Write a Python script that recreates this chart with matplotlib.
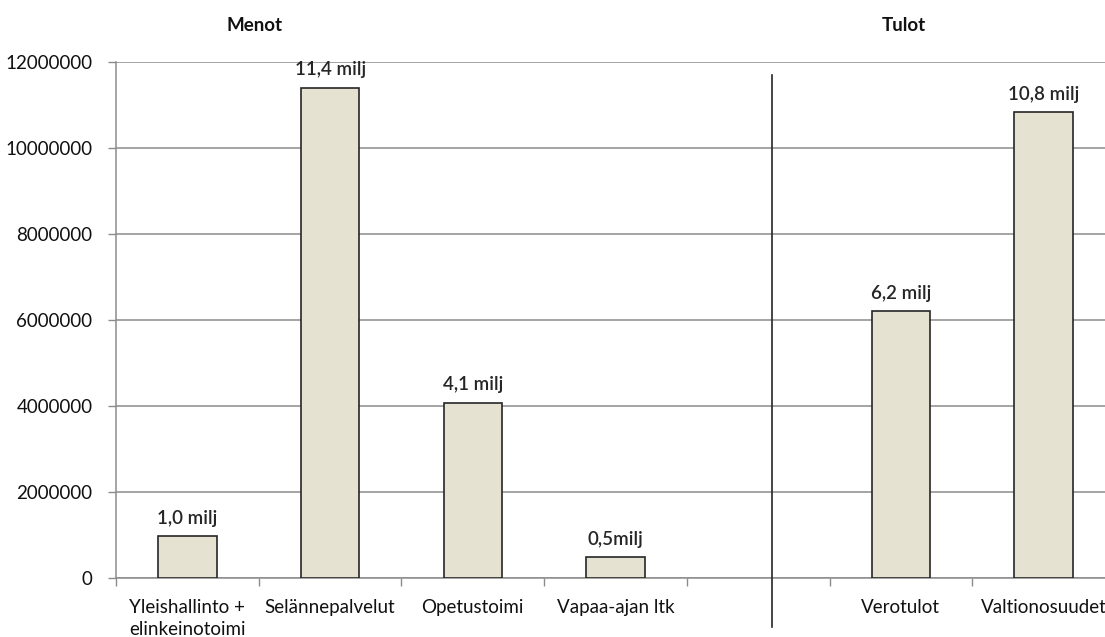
import matplotlib.pyplot as plt
import numpy as np

# Menot (expenses) and Tulot (income); the empty slot separates the two groups
categories = ["Yleishallinto +\nelinkeinotoimi", "Selännepalvelut", "Opetustoimi",
              "Vapaa-ajan ltk", "", "Verotulot", "Valtionosuudet"]
values = [970000, 11400000, 4080000, 480000, np.nan, 6200000, 10830000]
value_labels = ["1,0 milj", "11,4 milj", "4,1 milj", "0,5milj", "", "6,2 milj", "10,8 milj"]
group_titles = ["Menot", "Tulot"]
y_ticks = [0, 2000000, 4000000, 6000000, 8000000, 10000000, 12000000]

plt.rcParams["font.family"] = ["Lato", "DejaVu Sans"]

fig = plt.figure(figsize=(11.05, 6.37), dpi=100, facecolor="white")
ax = fig.add_axes([0.105, 0.0926, 0.904, 0.810])

x = np.arange(len(categories))
ax.bar(x, values, width=0.41, color="#e6e2d2", edgecolor="#262626",
       linewidth=1.2, zorder=3)
for xi, v, lab in zip(x, values, value_labels):
    if lab:
        ax.text(xi, v + 220000, lab, ha="center", va="bottom", fontsize=13.5,
                fontweight="semibold", color="#262626", clip_on=False)

ax.set_xlim(-0.5, len(categories) - 0.5)
ax.set_ylim(0, 12000000)
ax.set_yticks(y_ticks)
ax.set_yticklabels([str(t) for t in y_ticks], fontsize=13.5, color="#111111")
ax.grid(True, axis="y", color="#8c8c8c", linewidth=1.1, zorder=0)
ax.tick_params(axis="y", length=6, width=1, color="#8c8c8c", pad=11)

ax.set_xticks(x)
ax.set_xticklabels(categories, fontsize=13.5, color="#111111", va="top",
                   linespacing=1.4)
ax.set_xticks(np.arange(-0.5, len(categories) - 0.5, 1.0), minor=True)
ax.tick_params(axis="x", which="major", length=0, pad=15)
ax.tick_params(axis="x", which="minor", length=6, width=1, color="#8c8c8c",
               direction="out")

for side in ["top", "right"]:
    ax.spines[side].set_visible(False)
for side in ["left", "bottom"]:
    ax.spines[side].set_color("#8c8c8c")
    ax.spines[side].set_linewidth(1.1)

# separator between Menot and Tulot
ax.plot([4.1, 4.1], [11700000, -1150000], color="#262626", linewidth=1.2,
        clip_on=False, zorder=4)

ax.text(0.47, 12850000, group_titles[0], ha="center", va="center", fontsize=13.5,
        fontweight="bold", color="#111111")
ax.text(5.02, 12850000, group_titles[1], ha="center", va="center", fontsize=13.5,
        fontweight="bold", color="#111111")

fig.savefig("out.png", dpi=100)
